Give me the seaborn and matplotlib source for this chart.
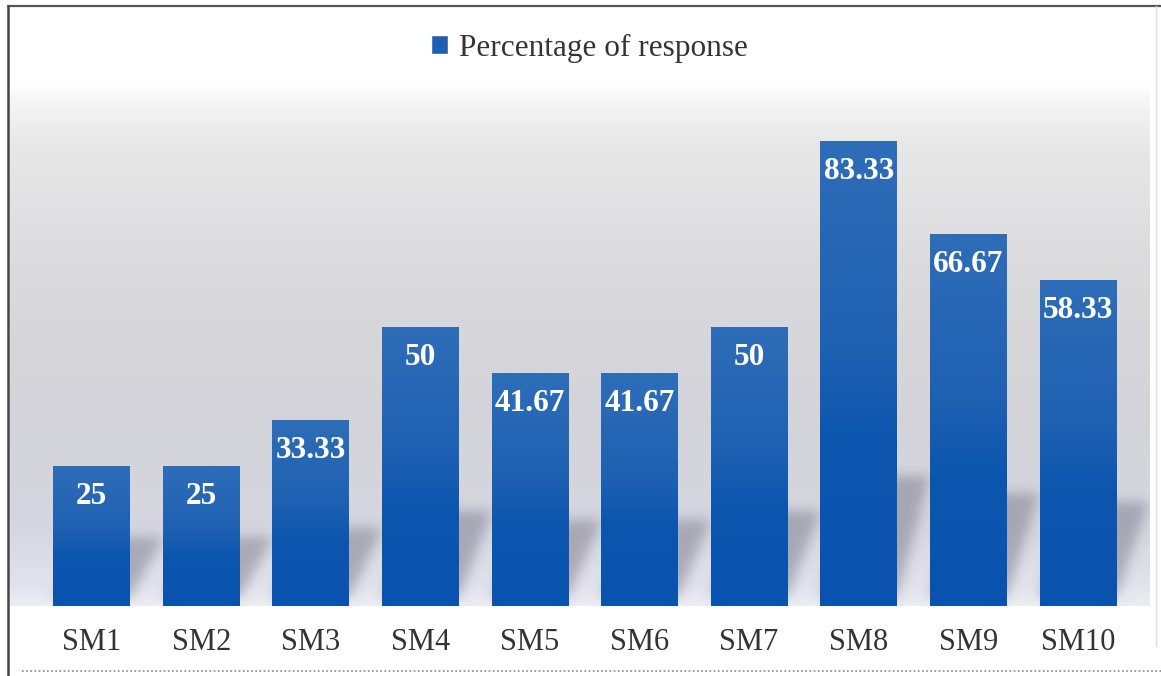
import numpy as np
import pandas as pd
import matplotlib
matplotlib.use("Agg")
import matplotlib.pyplot as plt
import seaborn as sns
from matplotlib.colors import LinearSegmentedColormap
from matplotlib.patches import Patch
from matplotlib.lines import Line2D

# ---- data -------------------------------------------------------------
categories = ["SM1", "SM2", "SM3", "SM4", "SM5", "SM6", "SM7", "SM8", "SM9", "SM10"]
percentages = [25, 25, 33.33, 50, 41.67, 41.67, 50, 83.33, 66.67, 58.33]
series_name = "Percentage of response"

sns.set_theme(style="white")
plt.rcParams["font.family"] = ["Liberation Serif", "DejaVu Serif"]

W, H = 1161, 676
fig = plt.figure(figsize=(W / 100, H / 100), dpi=100)
fig.patch.set_facecolor("white")
ax = fig.add_axes([10 / W, 70 / H, 1140 / W, 526 / H])

df = pd.DataFrame({"category": categories, "value": percentages})
sns.barplot(data=df, x="category", y="value", color="#1a5fb4", width=0.7,
            saturation=1, linewidth=0, edgecolor="none", ax=ax, zorder=3)

XL = (-0.744, 9.658)
YT = 94.3

# ---- back wall: vertical grey gradient (row 0 = top) -------------------
wall = LinearSegmentedColormap.from_list("wall", [
    (0.00, "#ffffff"),
    (0.05, "#f3f3f3"),
    (0.12, "#e8e8e9"),
    (0.35, "#dbdbdd"),
    (0.62, "#d3d3d9"),
    (0.85, "#d6d6e0"),
    (0.96, "#e2e2ec"),
    (1.00, "#ececf3"),
])
grad = np.linspace(0, 1, 256).reshape(-1, 1)
ax.imshow(grad, cmap=wall, extent=[XL[0], XL[1], 0, YT], origin="upper",
          aspect="auto", zorder=0, interpolation="bilinear")

# ---- soft cast shadows of the bars --------------------------------------
nx, ny = 1140, 526
xs = np.linspace(XL[0], XL[1], nx)
ys = np.linspace(0, YT, ny)
X, Y = np.meshgrid(xs, ys)
mask = np.zeros_like(X)
bw = 0.7
for i, v in enumerate(percentages):
    h = 6 + 0.19 * v
    dx = 0.30
    base = 1.5
    t = np.clip((Y - base) / h, 0, None)
    inside = ((Y >= base) & (Y <= base + h)
              & (X >= i - bw / 2 + dx * t) & (X <= i + bw / 2 + dx * t))
    mask[inside] = 1.0

def blur(a, sigma):
    r = int(3 * sigma)
    k = np.exp(-0.5 * (np.arange(-r, r + 1) / sigma) ** 2)
    k /= k.sum()
    a = np.apply_along_axis(lambda m: np.convolve(m, k, mode="same"), 0, a)
    a = np.apply_along_axis(lambda m: np.convolve(m, k, mode="same"), 1, a)
    return a

mask = blur(mask, 6)
shadow = np.zeros((ny, nx, 4))
shadow[..., 0] = 0.50
shadow[..., 1] = 0.50
shadow[..., 2] = 0.57
shadow[..., 3] = mask * 0.55
ax.imshow(shadow, extent=[XL[0], XL[1], 0, YT], origin="lower",
          aspect="auto", zorder=1)

# ---- bar fill gradients ---------------------------------------------------
bar_cmap = LinearSegmentedColormap.from_list("bar", [
    (0.0, "#0953b0"),
    (0.35, "#0c56af"),
    (0.55, "#1e60b2"),
    (1.0, "#2e6db8"),
])
bgrad = np.linspace(0, 1, 128).reshape(-1, 1)
for p in list(ax.patches):
    x0, w, hgt = p.get_x(), p.get_width(), p.get_height()
    ax.imshow(bgrad, cmap=bar_cmap, extent=[x0, x0 + w, 0, hgt], origin="lower",
              aspect="auto", zorder=3.5, interpolation="bilinear")

# ---- value labels ---------------------------------------------------------
for i, v in enumerate(percentages):
    ax.text(i, v - 5.4, f"{v:g}", ha="center", va="center", color="white",
            fontsize=22.5, fontweight="bold", zorder=5)

ax.set_xlim(*XL)
ax.set_ylim(0, YT)
ax.set_xlabel("")
ax.set_ylabel("")
ax.set_yticks([])
ax.tick_params(axis="x", length=0, pad=16, labelsize=22, labelcolor="#333333")
for s in ax.spines.values():
    s.set_visible(False)

# ---- legend ---------------------------------------------------------------
leg = fig.legend(handles=[Patch(facecolor="#1f5fb3", label=series_name)],
                 loc="center", bbox_to_anchor=(589 / W, (H - 48) / H),
                 frameon=False, fontsize=22.5, handlelength=0.55, handleheight=0.55,
                 handletextpad=0.35)
for t in leg.get_texts():
    t.set_color("#333333")

# ---- frame lines ----------------------------------------------------------
fig.add_artist(Line2D([8 / W, 1], [(H - 6) / H] * 2, color="#555555", lw=1.6))
fig.add_artist(Line2D([8 / W] * 2, [0, (H - 6) / H], color="#444444", lw=1.8))
fig.add_artist(Line2D([1156 / W] * 2, [30 / H, (H - 6) / H], color="#dddddd", lw=1.0))
fig.add_artist(Line2D([22 / W, 1], [5 / H] * 2, color="#888888", lw=1.2,
                      linestyle=(0, (1, 1.5))))

fig.savefig("out.png", dpi=100)
